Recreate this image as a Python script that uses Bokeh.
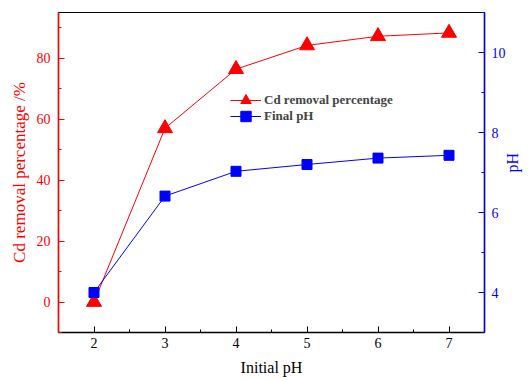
import math
from bokeh.plotting import figure
from bokeh.models import Range1d, LinearAxis, Legend, LegendItem, FixedTicker
from bokeh.embed import file_html
from bokeh.resources import INLINE

initial_ph = [2, 3, 4, 5, 6, 7]
cd_removal = [0.0, 57.0, 76.4, 84.2, 87.2, 88.3]
final_ph = [4.0, 6.41, 7.03, 7.2, 7.36, 7.43]

RED = "#ff0000"
BLUE = "#0000ff"
FONT = "Times New Roman"

p = figure(width=532, height=380, output_backend="svg", toolbar_location=None,
           x_range=Range1d(1.5, 7.5), y_range=Range1d(-10, 95),
           min_border_left=58, min_border_right=46, min_border_top=12, min_border_bottom=48)
p.extra_y_ranges = {"ph": Range1d(3, 11)}
p.grid.visible = False
p.outline_line_color = "black"
p.outline_line_width = 1.2
p.background_fill_color = "white"
p.border_fill_color = "white"

r1l = p.line(initial_ph, cd_removal, color=RED, line_width=1)
r1m = p.scatter(initial_ph, cd_removal, marker="triangle", size=15, color=RED)
r2l = p.line(initial_ph, final_ph, color=BLUE, line_width=1, y_range_name="ph")
r2m = p.scatter(initial_ph, final_ph, marker="square", size=10, color=BLUE, y_range_name="ph")

def style(ax, color):
    ax.axis_line_color = color
    ax.axis_line_width = 1.5
    ax.major_tick_line_color = color
    ax.minor_tick_line_color = color
    ax.major_tick_in = 6
    ax.major_tick_out = 0
    ax.minor_tick_in = 3
    ax.minor_tick_out = 0
    ax.major_label_text_color = color
    ax.major_label_text_font = FONT
    ax.major_label_text_font_size = "14px"
    ax.axis_label_text_color = color
    ax.axis_label_text_font = FONT
    ax.axis_label_text_font_size = "17px"
    ax.axis_label_text_font_style = "normal"

xa = p.xaxis[0]
style(xa, "black")
xa.ticker = FixedTicker(ticks=[2, 3, 4, 5, 6, 7], minor_ticks=[1.5, 2.5, 3.5, 4.5, 5.5, 6.5, 7.5])
xa.axis_label = "Initial pH"
xa.axis_label_text_font_size = "16px"
xa.major_label_standoff = 5
xa.axis_label_standoff = 8

ya = p.yaxis[0]
style(ya, RED)
ya.ticker = FixedTicker(ticks=[0, 20, 40, 60, 80], minor_ticks=[-10, 10, 30, 50, 70, 90])
ya.axis_label = "Cd removal percentage /%"
ya.major_label_standoff = 8

ra = LinearAxis(y_range_name="ph")
style(ra, BLUE)
ra.ticker = FixedTicker(ticks=[4, 6, 8, 10], minor_ticks=[3, 5, 7, 9, 11])
ra.major_label_standoff = 7
ra.axis_label = "pH"
ra.axis_label_text_font_size = "16px"
ra.axis_label_standoff = 4
if "axis_label_orientation" in ra.properties():
    ra.axis_label_orientation = math.pi / 2
p.add_layout(ra, "right")

def make_legend(label, renderers, loc):
    lg = Legend(items=[LegendItem(label=label, renderers=renderers)], location=loc)
    lg.border_line_color = None
    lg.background_fill_alpha = 0
    lg.label_text_font = FONT
    lg.label_text_font_style = "bold"
    lg.label_text_font_size = "13px"
    lg.glyph_width = 31
    lg.glyph_height = 26
    lg.label_height = 16
    lg.padding = 2
    lg.label_standoff = 3
    p.add_layout(lg, "center")

make_legend("Cd removal percentage", [r1l, r1m], (172, 219))
make_legend("Final pH", [r2l, r2m], (172, 203))

open("out.html", "w").write(file_html(p, INLINE))
